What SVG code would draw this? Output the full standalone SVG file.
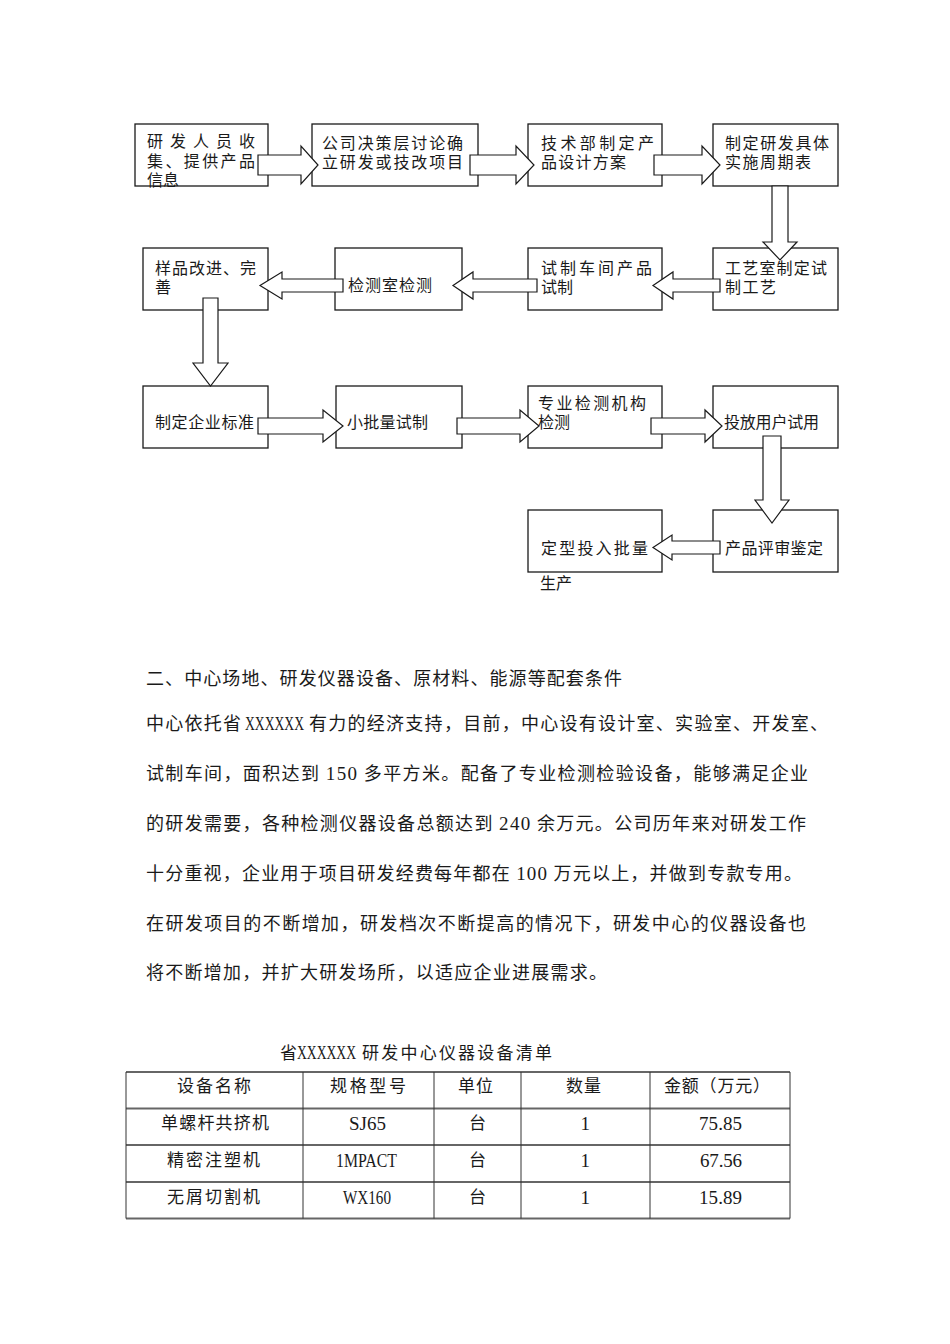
<svg xmlns="http://www.w3.org/2000/svg" width="950" height="1344" viewBox="0 0 950 1344">
<style>
  .box{fill:#fff;stroke:#1a1a1a;stroke-width:1.3}
  .arr{fill:#fff;stroke:#1a1a1a;stroke-width:1.2;stroke-linejoin:miter}
  .t{font-family:"Noto Sans CJK SC","Noto Sans CJK JP",sans-serif;font-size:16px;fill:#1a1a1a}
  .tt{font-family:"Noto Sans CJK SC","Noto Sans CJK JP",sans-serif;font-size:17px;fill:#1a1a1a}
  .p{font-family:"Noto Sans CJK SC","Noto Sans CJK JP",sans-serif;font-size:18px;fill:#1a1a1a}
  .l{font-family:"Liberation Serif",serif;font-size:19px;fill:#1a1a1a}
  .hl{stroke:#666;stroke-width:1.8}
  .vl{stroke:#333;stroke-width:1}
</style>
<rect width="950" height="1344" fill="#fff"/>

<g id="nodes">
  <g id="n1"><rect class="box" x="135" y="124" width="133" height="62"/>
    <text class="t" x="147" y="147" textLength="108" lengthAdjust="spacing">研发人员收</text>
    <text class="t" x="147" y="166.5" textLength="108" lengthAdjust="spacing">集、提供产品</text>
    <text class="t" x="147" y="186">信息</text></g>
  <g id="n2"><rect class="box" x="312" y="124" width="166" height="62"/>
    <text class="t" x="322" y="148.5" textLength="141" lengthAdjust="spacing">公司决策层讨论确</text>
    <text class="t" x="322" y="167.5" textLength="141" lengthAdjust="spacing">立研发或技改项目</text></g>
  <g id="n3"><rect class="box" x="528" y="124" width="134" height="62"/>
    <text class="t" x="541" y="148.5" textLength="113" lengthAdjust="spacing">技术部制定产</text>
    <text class="t" x="541" y="167.5" textLength="85" lengthAdjust="spacing">品设计方案</text></g>
  <g id="n4"><rect class="box" x="713" y="124" width="125" height="62"/>
    <text class="t" x="725" y="148.5" textLength="104" lengthAdjust="spacing">制定研发具体</text>
    <text class="t" x="725" y="167.5" textLength="86" lengthAdjust="spacing">实施周期表</text></g>
  <g id="n5"><rect class="box" x="713" y="248" width="125" height="62"/>
    <text class="t" x="725" y="273.5" textLength="102" lengthAdjust="spacing">工艺室制定试</text>
    <text class="t" x="725" y="292.5" textLength="51" lengthAdjust="spacing">制工艺</text></g>
  <g id="n6"><rect class="box" x="528" y="248" width="134" height="62"/>
    <text class="t" x="541" y="273.5" textLength="111" lengthAdjust="spacing">试制车间产品</text>
    <text class="t" x="541" y="292.5">试制</text></g>
  <g id="n7"><rect class="box" x="335" y="248" width="127" height="62"/>
    <text class="t" x="348" y="291" textLength="84" lengthAdjust="spacing">检测室检测</text></g>
  <g id="n8"><rect class="box" x="143" y="248" width="125" height="62"/>
    <text class="t" x="155" y="273.5" textLength="101" lengthAdjust="spacing">样品改进、完</text>
    <text class="t" x="155" y="292.5">善</text></g>
  <g id="n9"><rect class="box" x="143" y="386" width="125" height="62"/>
    <text class="t" x="155" y="427.5" textLength="99" lengthAdjust="spacing">制定企业标准</text></g>
  <g id="n10"><rect class="box" x="336" y="386" width="126" height="62"/>
    <text class="t" x="347" y="427.5" textLength="81" lengthAdjust="spacing">小批量试制</text></g>
  <g id="n11"><rect class="box" x="528" y="386" width="134" height="62"/>
    <text class="t" x="538" y="409" textLength="108" lengthAdjust="spacing">专业检测机构</text>
    <text class="t" x="538" y="427.5">检测</text></g>
  <g id="n12"><rect class="box" x="713" y="386" width="125" height="62"/>
    <text class="t" x="724" y="427.5" textLength="95" lengthAdjust="spacing">投放用户试用</text></g>
  <g id="n13"><rect class="box" x="713" y="510" width="125" height="62"/>
    <text class="t" x="725" y="554" textLength="98" lengthAdjust="spacing">产品评审鉴定</text></g>
  <g id="n14"><rect class="box" x="528" y="510" width="134" height="62"/>
    <text class="t" x="541" y="554" textLength="107" lengthAdjust="spacing">定型投入批量</text>
    <text class="t" x="540" y="589">生产</text></g>
</g>

<g id="connectors">
  <path class="arr" d="M258,155 H301 V146 L318,165 L301,184 V175 H258 Z"/>
  <path class="arr" d="M470,155 H516 V146 L534,165 L516,184 V175 H470 Z"/>
  <path class="arr" d="M654,155 H702 V146 L720,165 L702,184 V175 H654 Z"/>
  <path class="arr" d="M772,186 V242 H763 L780,260 L797,242 H788 V186 Z"/>
  <path class="arr" d="M720,279 H673 V272 L653,285.5 L673,299 V292 H720 Z"/>
  <path class="arr" d="M537,279 H473 V272 L453,285.5 L473,299 V292 H537 Z"/>
  <path class="arr" d="M343,279 H282 V272 L260,285.5 L282,299 V292 H343 Z"/>
  <path class="arr" d="M203,298 V363 H193 L210.5,386 L228,363 H218 V298 Z"/>
  <path class="arr" d="M258,418 H323 V410 L343,426 L323,442 V434 H258 Z"/>
  <path class="arr" d="M457,418 H520 V410 L539,426 L520,442 V434 H457 Z"/>
  <path class="arr" d="M651,418 H705 V410 L722,426 L705,442 V434 H651 Z"/>
  <path class="arr" d="M763,436 V500 H755 L772,523 L789,500 H781 V436 Z"/>
  <path class="arr" d="M720,541 H672 V535 L653,547.5 L672,560 V554 H720 Z"/>
</g>

<g id="body">
  <text class="p" x="146" y="685" textLength="476" lengthAdjust="spacing">二、中心场地、研发仪器设备、原材料、能源等配套条件</text>
  <text class="p" y="730"><tspan x="146" textLength="95" lengthAdjust="spacing">中心依托省</tspan><tspan class="l" x="245" font-size="18" textLength="59" lengthAdjust="spacingAndGlyphs">XXXXXX</tspan><tspan x="309" textLength="519" lengthAdjust="spacing">有力的经济支持，目前，中心设有设计室、实验室、开发室、</tspan></text>
  <text class="p" x="146" y="780" textLength="662" lengthAdjust="spacing">试制车间，面积达到 <tspan class="l">150</tspan> 多平方米。配备了专业检测检验设备，能够满足企业</text>
  <text class="p" x="146" y="830" textLength="660" lengthAdjust="spacing">的研发需要，各种检测仪器设备总额达到 <tspan class="l">240</tspan> 余万元。公司历年来对研发工作</text>
  <text class="p" x="146" y="880" textLength="656" lengthAdjust="spacing">十分重视，企业用于项目研发经费每年都在 <tspan class="l">100</tspan> 万元以上，并做到专款专用。</text>
  <text class="p" x="146" y="930" textLength="660" lengthAdjust="spacing">在研发项目的不断增加，研发档次不断提高的情况下，研发中心的仪器设备也</text>
  <text class="p" x="146" y="979" textLength="461" lengthAdjust="spacing">将不断增加，并扩大研发场所，以适应企业进展需求。</text>
</g>

<g id="table">
  <text class="tt" y="1059"><tspan x="280">省</tspan><tspan class="l" x="297" font-size="18" textLength="59" lengthAdjust="spacingAndGlyphs">XXXXXX</tspan><tspan x="362" textLength="190" lengthAdjust="spacing">研发中心仪器设备清单</tspan></text>
  <line class="hl" x1="126" y1="1072" x2="790" y2="1072"/>
  <line class="hl" x1="126" y1="1108.5" x2="790" y2="1108.5"/>
  <line class="hl" x1="126" y1="1145" x2="790" y2="1145"/>
  <line class="hl" x1="126" y1="1182" x2="790" y2="1182"/>
  <line class="hl" x1="126" y1="1218.5" x2="790" y2="1218.5"/>
  <line class="vl" x1="126" y1="1072" x2="126" y2="1218.5"/>
  <line class="vl" x1="303" y1="1072" x2="303" y2="1218.5"/>
  <line class="vl" x1="434" y1="1072" x2="434" y2="1218.5"/>
  <line class="vl" x1="521" y1="1072" x2="521" y2="1218.5"/>
  <line class="vl" x1="650" y1="1072" x2="650" y2="1218.5"/>
  <line class="vl" x1="790" y1="1072" x2="790" y2="1218.5"/>

  <text class="tt" x="177" y="1092" textLength="74" lengthAdjust="spacing">设备名称</text>
  <text class="tt" x="330" y="1092" textLength="76" lengthAdjust="spacing">规格型号</text>
  <text class="tt" x="458" y="1092" textLength="35" lengthAdjust="spacing">单位</text>
  <text class="tt" x="566" y="1092" textLength="35" lengthAdjust="spacing">数量</text>
  <text class="tt" x="664" y="1092" textLength="106" lengthAdjust="spacing">金额（万元）</text>

  <text class="tt" x="161" y="1129" textLength="108" lengthAdjust="spacing">单螺杆共挤机</text>
  <text class="l" x="349" y="1130" textLength="37" lengthAdjust="spacingAndGlyphs">SJ65</text>
  <text class="tt" x="469" y="1129">台</text>
  <text class="l" x="580.5" y="1130">1</text>
  <text class="l" x="699" y="1130" textLength="43" lengthAdjust="spacing">75.85</text>

  <text class="tt" x="167" y="1166" textLength="93" lengthAdjust="spacing">精密注塑机</text>
  <text class="l" x="336" y="1167" textLength="61" lengthAdjust="spacingAndGlyphs">1MPACT</text>
  <text class="tt" x="469" y="1166">台</text>
  <text class="l" x="580.5" y="1167">1</text>
  <text class="l" x="700" y="1167" textLength="42" lengthAdjust="spacing">67.56</text>

  <text class="tt" x="167" y="1203" textLength="93" lengthAdjust="spacing">无屑切割机</text>
  <text class="l" x="343" y="1204" textLength="48" lengthAdjust="spacingAndGlyphs">WX160</text>
  <text class="tt" x="469" y="1203">台</text>
  <text class="l" x="580.5" y="1204">1</text>
  <text class="l" x="699" y="1204" textLength="43" lengthAdjust="spacing">15.89</text>
</g>
</svg>
